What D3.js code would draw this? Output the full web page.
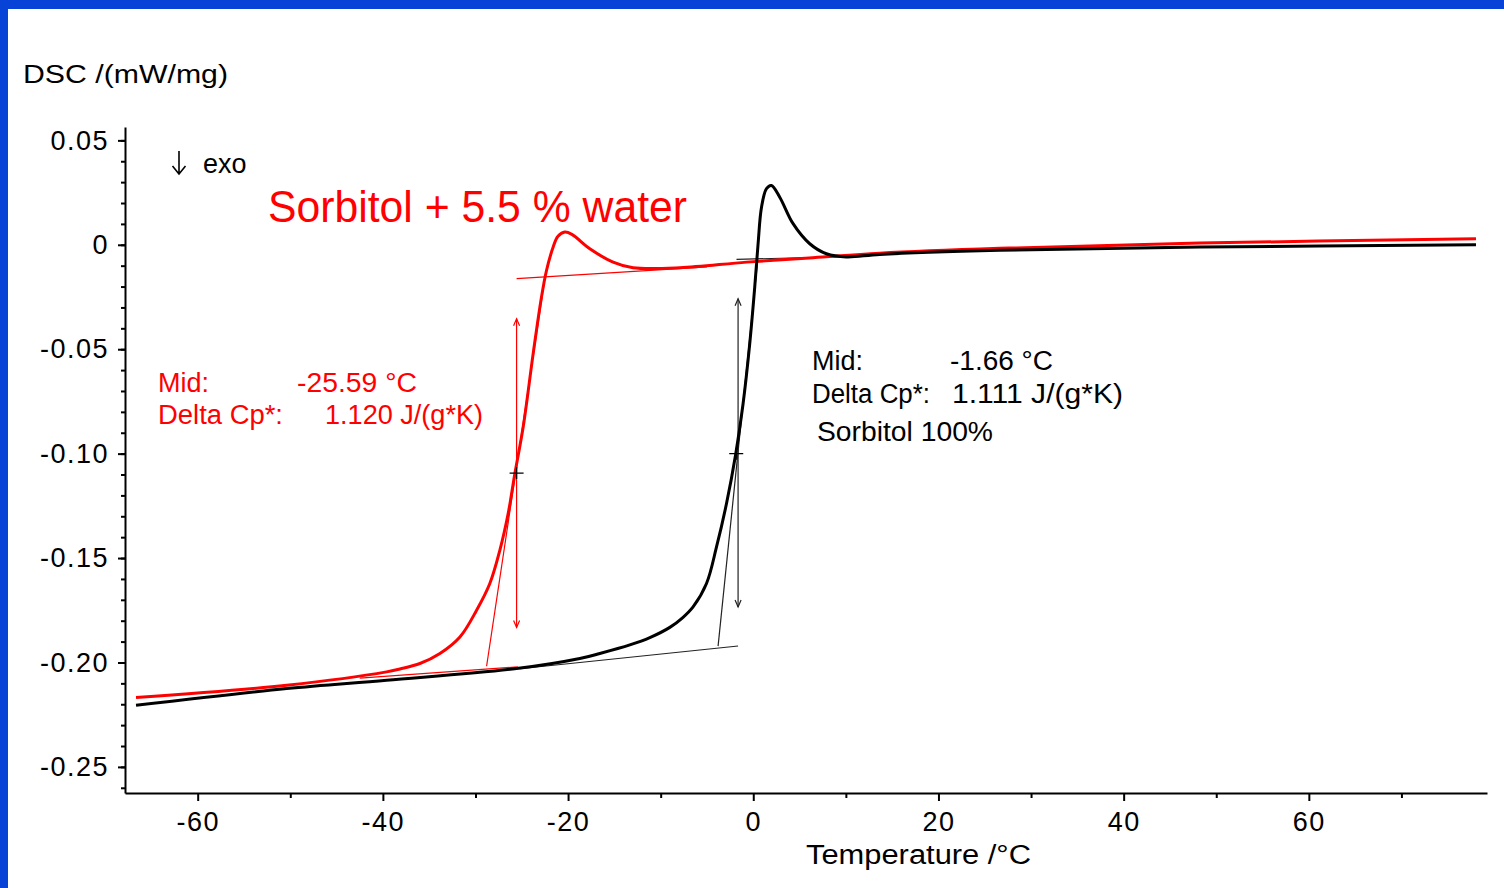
<!DOCTYPE html>
<html>
<head>
<meta charset="utf-8">
<script src="https://cdn.jsdelivr.net/npm/d3@7"></script>
<style>
  body { margin: 0; background: #fff; }
  svg { display: block; font-family: "Liberation Sans", Arial, sans-serif; }
  .tick text { font-size: 27px; letter-spacing: 1.5px; fill: #000; }
  .tick line, .domain { stroke: #000; stroke-width: 2px; }
</style>
</head>
<body>
<script>
// Sorbitol 100% : temperature (°C) / DSC (mW/mg)
var tempPure = [-66.66, -50.39, -39.60, -25.56, -18.73, -16.57, -13.33, -11.17, -9.01, -7.61, -6.50, -5.05, -3.97, -2.89, -1.89, -1.10, -0.38, 0.16, 0.52, 0.89, 1.43, 1.96, 2.86, 4.30, 6.10, 7.90, 10.06, 13.66, 26.61, 48.2, 78.05];
var dscPure = [-0.2205, -0.2125, -0.2085, -0.2029, -0.1981, -0.1957, -0.1916, -0.1881, -0.1832, -0.1785, -0.1734, -0.1622, -0.1447, -0.1239, -0.1000, -0.0761, -0.0473, -0.0202, 0.0005, 0.0180, 0.0269, 0.0284, 0.0228, 0.0101, 0.0005, -0.0043, -0.0058, -0.0046, -0.0026, -0.0011, 0.0000];

// Sorbitol + 5.5 % water : red trace
var tempWater = [-66.66, -50.39, -39.60, -38.16, -36.00, -33.84, -31.68, -29.88, -28.45, -27.37, -26.47, -25.75, -24.85, -23.77, -22.87, -22.33, -21.61, -21.11, -20.35, -19.59, -17.65, -15.14, -12.98, -7.93, -0.73, 6.46, 13.66, 26.61, 48.2, 78.05];
var dscWater = [-0.2168, -0.2109, -0.2045, -0.2031, -0.2005, -0.1957, -0.1878, -0.1750, -0.1622, -0.1463, -0.1287, -0.1096, -0.0873, -0.0521, -0.0250, -0.0123, -0.0011, 0.0040, 0.0061, 0.0050, -0.0019, -0.0083, -0.0110, -0.0110, -0.0083, -0.0062, -0.0040, -0.0017, 0.0008, 0.0029];

var xMajorTicks = [-60, -40, -20, 0, 20, 40, 60];
var xMinorTicks = [-50, -30, -10, 10, 30, 50, 70];
var yMajorTicks = [0.05, 0, -0.05, -0.10, -0.15, -0.20, -0.25];
var yTickLabels = ["0.05", "0", "-0.05", "-0.10", "-0.15", "-0.20", "-0.25"];

// glass transition evaluation lines, [T, dsc]
var waterUpperBase = [[-25.56, -0.0162], [-5.0, -0.0106]];
var waterLowerBase = [[-42.5, -0.2075], [-25.42, -0.2021]];
var waterTangent = [[-28.80, -0.2018], [-22.51, -0.0162]];
var waterStep = [[-25.56, -0.0354], [-25.56, -0.1833]];
var waterMid = [-25.56, -0.1093];

var pureUpperBase = [[-1.81, -0.0070], [10.06, -0.0056]];
var pureLowerBase = [[-25.21, -0.2030], [-1.64, -0.1921]];
var pureTangent = [[-3.80, -0.1922], [0.49, -0.0070]];
var pureStep = [[-1.64, -0.0258], [-1.64, -0.1734]];
var pureMid = [-1.84, -0.1000];

var svgWidth = 1504;
var svgHeight = 888;

var svg = d3.select("body")
  .append("svg")
  .attr("width", svgWidth)
  .attr("height", svgHeight);

// blue slide frame
svg.append("rect").attr("x", 0).attr("y", 0).attr("width", svgWidth).attr("height", 9).attr("fill", "#0643d6");
svg.append("rect").attr("x", 0).attr("y", 0).attr("width", 8).attr("height", svgHeight).attr("fill", "#0643d6");

var x = d3.scaleLinear().domain([-67.85, 79.24]).range([125, 1487]);
var y = d3.scaleLinear().domain([0.0564, -0.2625]).range([127, 793]);

// X axis
svg.append("g")
  .attr("transform", "translate(0,793)")
  .call(d3.axisBottom(x).tickValues(xMajorTicks).tickSize(8).tickPadding(11)
    .tickSizeOuter(0).tickFormat(function (d) { return String(d); }));
svg.append("g")
  .attr("transform", "translate(0,793)")
  .call(d3.axisBottom(x).tickValues(xMinorTicks).tickSize(5).tickFormat(""))
  .select(".domain").remove();

// Y axis
svg.append("g")
  .attr("transform", "translate(125,0)")
  .call(d3.axisLeft(y).tickValues(yMajorTicks).tickSize(7).tickPadding(9)
    .tickSizeOuter(0).tickFormat(function (d, i) { return yTickLabels[i]; }));
svg.append("g")
  .attr("transform", "translate(125,0)")
  .call(d3.axisLeft(y).tickValues(d3.range(-26, 6).map(function (k) { return k / 100; }))
    .tickSize(4).tickFormat(""))
  .select(".domain").remove();

var line = d3.line()
  .x(function (d) { return x(d[0]); })
  .y(function (d) { return y(d[1]); });

function thin(pts, color) {
  svg.append("path").attr("d", line(pts))
    .attr("fill", "none").attr("stroke", color).attr("stroke-width", 1.2);
}

function stepArrow(pts, color) {
  thin(pts, color);
  var px = x(pts[0][0]), top = y(pts[0][1]), bot = y(pts[1][1]);
  svg.append("path")
    .attr("d", "M" + (px - 3) + "," + (top + 7) + "L" + px + "," + top + "L" + (px + 3) + "," + (top + 7)
      + "M" + (px - 3) + "," + (bot - 7) + "L" + px + "," + bot + "L" + (px + 3) + "," + (bot - 7))
    .attr("fill", "none").attr("stroke", color).attr("stroke-width", 1.2);
}

function midCross(p) {
  var cx = x(p[0]), cy = y(p[1]);
  svg.append("path")
    .attr("d", "M" + (cx - 7) + "," + cy + "H" + (cx + 7) + "M" + cx + "," + (cy - 6) + "V" + (cy + 6))
    .attr("stroke", "#000").attr("stroke-width", 1.3);
}

// evaluation constructions
thin(waterUpperBase, "#ff0000");
thin(waterLowerBase, "#ff0000");
thin(waterTangent, "#ff0000");
stepArrow(waterStep, "#ff0000");

thin(pureUpperBase, "#222");
thin(pureLowerBase, "#222");
thin(pureTangent, "#222");
stepArrow(pureStep, "#222");

var curve = d3.line()
  .x(function (d) { return x(d[0]); })
  .y(function (d) { return y(d[1]); })
  .curve(d3.curveCatmullRom.alpha(0.5));

svg.append("path")
  .attr("d", curve(d3.zip(tempWater, dscWater)))
  .attr("fill", "none").attr("stroke", "#ff0000").attr("stroke-width", 3)
  .attr("stroke-linejoin", "round");

svg.append("path")
  .attr("d", curve(d3.zip(tempPure, dscPure)))
  .attr("fill", "none").attr("stroke", "#000").attr("stroke-width", 3)
  .attr("stroke-linejoin", "round");

midCross(waterMid);
midCross(pureMid);

// texts
function label(tx, ty, str, size, color, len) {
  var t = svg.append("text")
    .attr("x", tx).attr("y", ty)
    .style("font-size", size + "px")
    .attr("fill", color)
    .text(str);
  if (len) t.attr("textLength", len).attr("lengthAdjust", "spacingAndGlyphs");
  return t;
}

label(23, 83, "DSC /(mW/mg)", 26, "#000", 205);
label(806, 864, "Temperature /°C", 27, "#000", 225);
label(203, 173, "exo", 27, "#000");
label(268, 222, "Sorbitol + 5.5 % water", 45, "#ff0000", 419);

// the "↓ exo" arrow
svg.append("path")
  .attr("d", "M179,151V174M172.5,166L179,174L185.5,166")
  .attr("fill", "none").attr("stroke", "#000").attr("stroke-width", 1.6);

label(158, 392, "Mid:", 27, "#ff0000");
label(297, 392, "-25.59 °C", 27, "#ff0000", 120);
label(158, 424, "Delta Cp*:", 27, "#ff0000", 125);
label(325, 424, "1.120 J/(g*K)", 27, "#ff0000", 158);

label(812, 370, "Mid:", 27, "#000");
label(950, 370, "-1.66 °C", 27, "#000", 103);
label(812, 403, "Delta Cp*:", 27, "#000", 118);
label(952, 403, "1.111 J/(g*K)", 27, "#000", 171);
label(817, 441, "Sorbitol 100%", 27, "#000", 176);
</script>
</body>
</html>
